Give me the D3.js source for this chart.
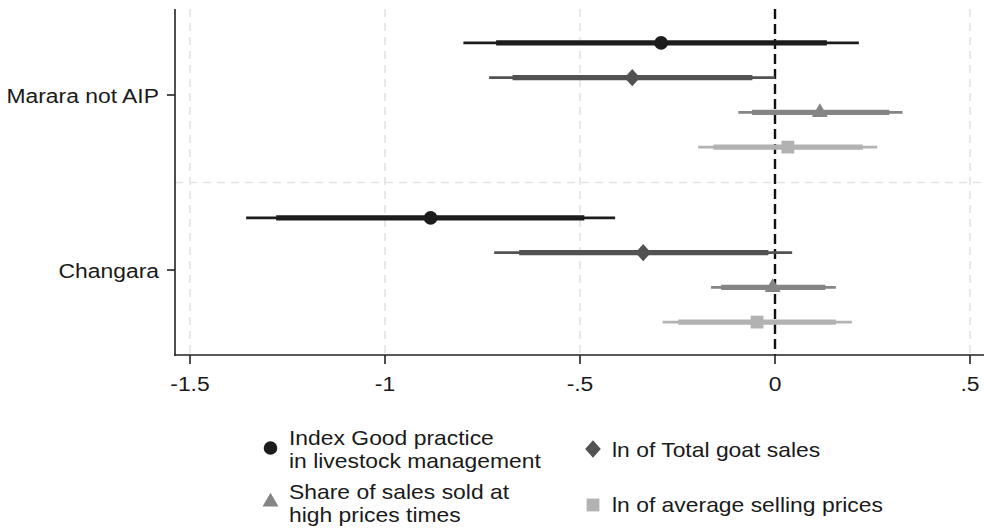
<!DOCTYPE html>
<html>
<head>
<meta charset="utf-8">
<script src="https://cdn.jsdelivr.net/npm/d3@7"></script>
<style>
  html, body { margin: 0; padding: 0; background: #fff; }
  svg text { font-family: "Liberation Sans", Arial, sans-serif; fill: #1a1a1a; }
</style>
</head>
<body>
<svg id="chart" width="984" height="530"></svg>
<script>
// Groups on the y axis
const categories = ["Marara not AIP", "Changara"];

// Outcome series (legend labels, one line per array entry)
const seriesLabels = [
  ["Index Good practice", "in livestock management"],
  ["ln of Total goat sales"],
  ["Share of sales sold at", "high prices times"],
  ["ln of average selling prices"]
];
const seriesColors = ["#1c1c1c", "#525252", "#858585", "#b2b2b2"];
const seriesShapes = ["circle", "diamond", "triangle", "square"];

// Point estimates per series, ordered as categories
const coefGood   = [-0.292, -0.883];
const coefSales  = [-0.366, -0.338];
const coefShare  = [ 0.115, -0.006];
const coefPrice  = [ 0.033, -0.046];

// Outer (thin) confidence intervals
const lowOuter  = [[-0.799, -1.356], [-0.733, -0.720], [-0.094, -0.164], [-0.197, -0.288]];
const highOuter = [[ 0.215, -0.410], [ 0.000,  0.044], [ 0.327,  0.156], [ 0.262,  0.197]];
// Inner (thick) confidence intervals
const lowInner  = [[-0.715, -1.279], [-0.673, -0.656], [-0.059, -0.138], [-0.158, -0.248]];
const highInner = [[ 0.133, -0.489], [-0.058, -0.017], [ 0.293,  0.129], [ 0.225,  0.156]];

// x axis ticks
const xTicks = [-1.5, -1, -0.5, 0, 0.5];
const xTickLabels = ["-1.5", "-1", "-.5", "0", ".5"];

const coefs = [coefGood, coefSales, coefShare, coefPrice];
const rows = [];
categories.forEach((c, ci) => {
  coefs.forEach((arr, si) => {
    rows.push({
      cat: c, s: si, b: arr[ci],
      lo95: lowOuter[si][ci], hi95: highOuter[si][ci],
      lo90: lowInner[si][ci], hi90: highInner[si][ci]
    });
  });
});

const svg = d3.select("#chart");
const plotLeft = 175, plotRight = 984, plotTop = 9, plotBottom = 355;
const axisFont = { size: 21, stretch: 1.09 };
const legendFont = { size: 20, stretch: 1.145, lead: 23 };

const x = d3.scaleLinear().domain([-1.5, 0.5]).range([190, 970]);
const yCat = d3.scaleBand().domain(categories).range([7.5, 357.5]).padding(0);
const ySer = d3.scalePoint().domain(d3.range(4)).range([0, yCat.bandwidth()]).padding(1.02);
const yPos = d => yCat(d.cat) + ySer(d.s);

// Text block (one or more lines), first baseline at (px, py)
function label(parent, px, py, lines, anchor, font) {
  const g = parent.append("g").attr("transform", `translate(${px},${py}) scale(${font.stretch},1)`);
  const t = g.append("text").attr("x", 0).attr("y", 0)
    .attr("text-anchor", anchor || "start")
    .attr("font-size", font.size);
  [].concat(lines).forEach((ln, j) => {
    t.append("tspan").attr("x", 0).attr("dy", j === 0 ? 0 : font.lead).text(ln);
  });
  return g;
}

function shapePath(shape) {
  switch (shape) {
    case "circle": return "M6.8,0A6.8,6.8 0 1,1 -6.8,0A6.8,6.8 0 1,1 6.8,0Z";
    case "diamond": return "M0,-8.7L7.8,0L0,8.7L-7.8,0Z";
    case "triangle": return "M0,-9.2L8,4.6L-8,4.6Z";
    case "square": return "M-6.4,-6.4H6.4V6.4H-6.4Z";
  }
}

// Grid lines
const grid = svg.append("g");
grid.selectAll("line.v").data(xTicks.filter(t => t !== 0)).join("line")
  .attr("x1", d => x(d)).attr("x2", d => x(d))
  .attr("y1", plotTop).attr("y2", plotBottom)
  .attr("stroke", "#e3e3e3").attr("stroke-width", 1.6)
  .attr("stroke-dasharray", "8,6");
grid.append("line")
  .attr("x1", plotLeft).attr("x2", plotRight)
  .attr("y1", yCat(categories[1])).attr("y2", yCat(categories[1]))
  .attr("stroke", "#e3e3e3").attr("stroke-width", 1.6)
  .attr("stroke-dasharray", "8,6");

// Reference line at zero
svg.append("line")
  .attr("x1", x(0)).attr("x2", x(0))
  .attr("y1", plotTop).attr("y2", plotBottom)
  .attr("stroke", "#111").attr("stroke-width", 2.4)
  .attr("stroke-dasharray", "10,5");

// Confidence intervals and point estimates
const marks = svg.append("g");
marks.selectAll("line.outer").data(rows).join("line")
  .attr("x1", d => x(d.lo95)).attr("x2", d => x(d.hi95))
  .attr("y1", yPos).attr("y2", yPos)
  .attr("stroke", d => seriesColors[d.s]).attr("stroke-width", 2.6);
marks.selectAll("line.inner").data(rows).join("line")
  .attr("x1", d => x(d.lo90)).attr("x2", d => x(d.hi90))
  .attr("y1", yPos).attr("y2", yPos)
  .attr("stroke", d => seriesColors[d.s]).attr("stroke-width", 5.2);
marks.selectAll("path.pt").data(rows).join("path")
  .attr("transform", d => `translate(${x(d.b)},${yPos(d)})`)
  .attr("d", d => shapePath(seriesShapes[d.s]))
  .attr("fill", d => seriesColors[d.s]);

// Axes
const axes = svg.append("g").attr("stroke", "#222").attr("stroke-width", 1.6);
axes.append("line").attr("x1", plotLeft).attr("x2", plotLeft).attr("y1", plotTop).attr("y2", plotBottom + 0.8);
axes.append("line").attr("x1", plotLeft - 0.8).attr("x2", plotRight).attr("y1", plotBottom).attr("y2", plotBottom);
axes.selectAll("line.xt").data(xTicks).join("line")
  .attr("x1", d => x(d)).attr("x2", d => x(d))
  .attr("y1", plotBottom).attr("y2", plotBottom + 9);
axes.selectAll("line.yt").data(categories).join("line")
  .attr("x1", plotLeft - 8).attr("x2", plotLeft)
  .attr("y1", d => yCat(d) + yCat.bandwidth() / 2)
  .attr("y2", d => yCat(d) + yCat.bandwidth() / 2);

xTicks.forEach((t, i) => label(svg, x(t), 391, xTickLabels[i], "middle", axisFont));
categories.forEach(c => label(svg, 159, yCat(c) + yCat.bandwidth() / 2 + 7.5, c, "end", axisFont));

// Legend
const legendPos = [
  { mx: 270.5, my: 448, tx: 289, ty: 445 },
  { mx: 593, my: 449, tx: 612, ty: 457 },
  { mx: 270.5, my: 502, tx: 289, ty: 499 },
  { mx: 593, my: 505, tx: 612, ty: 512 }
];
seriesLabels.forEach((lines, i) => {
  const p = legendPos[i];
  svg.append("path")
    .attr("transform", `translate(${p.mx},${p.my})`)
    .attr("d", shapePath(seriesShapes[i]))
    .attr("fill", seriesColors[i]);
  label(svg, p.tx, p.ty, lines, "start", legendFont);
});
</script>
</body>
</html>
